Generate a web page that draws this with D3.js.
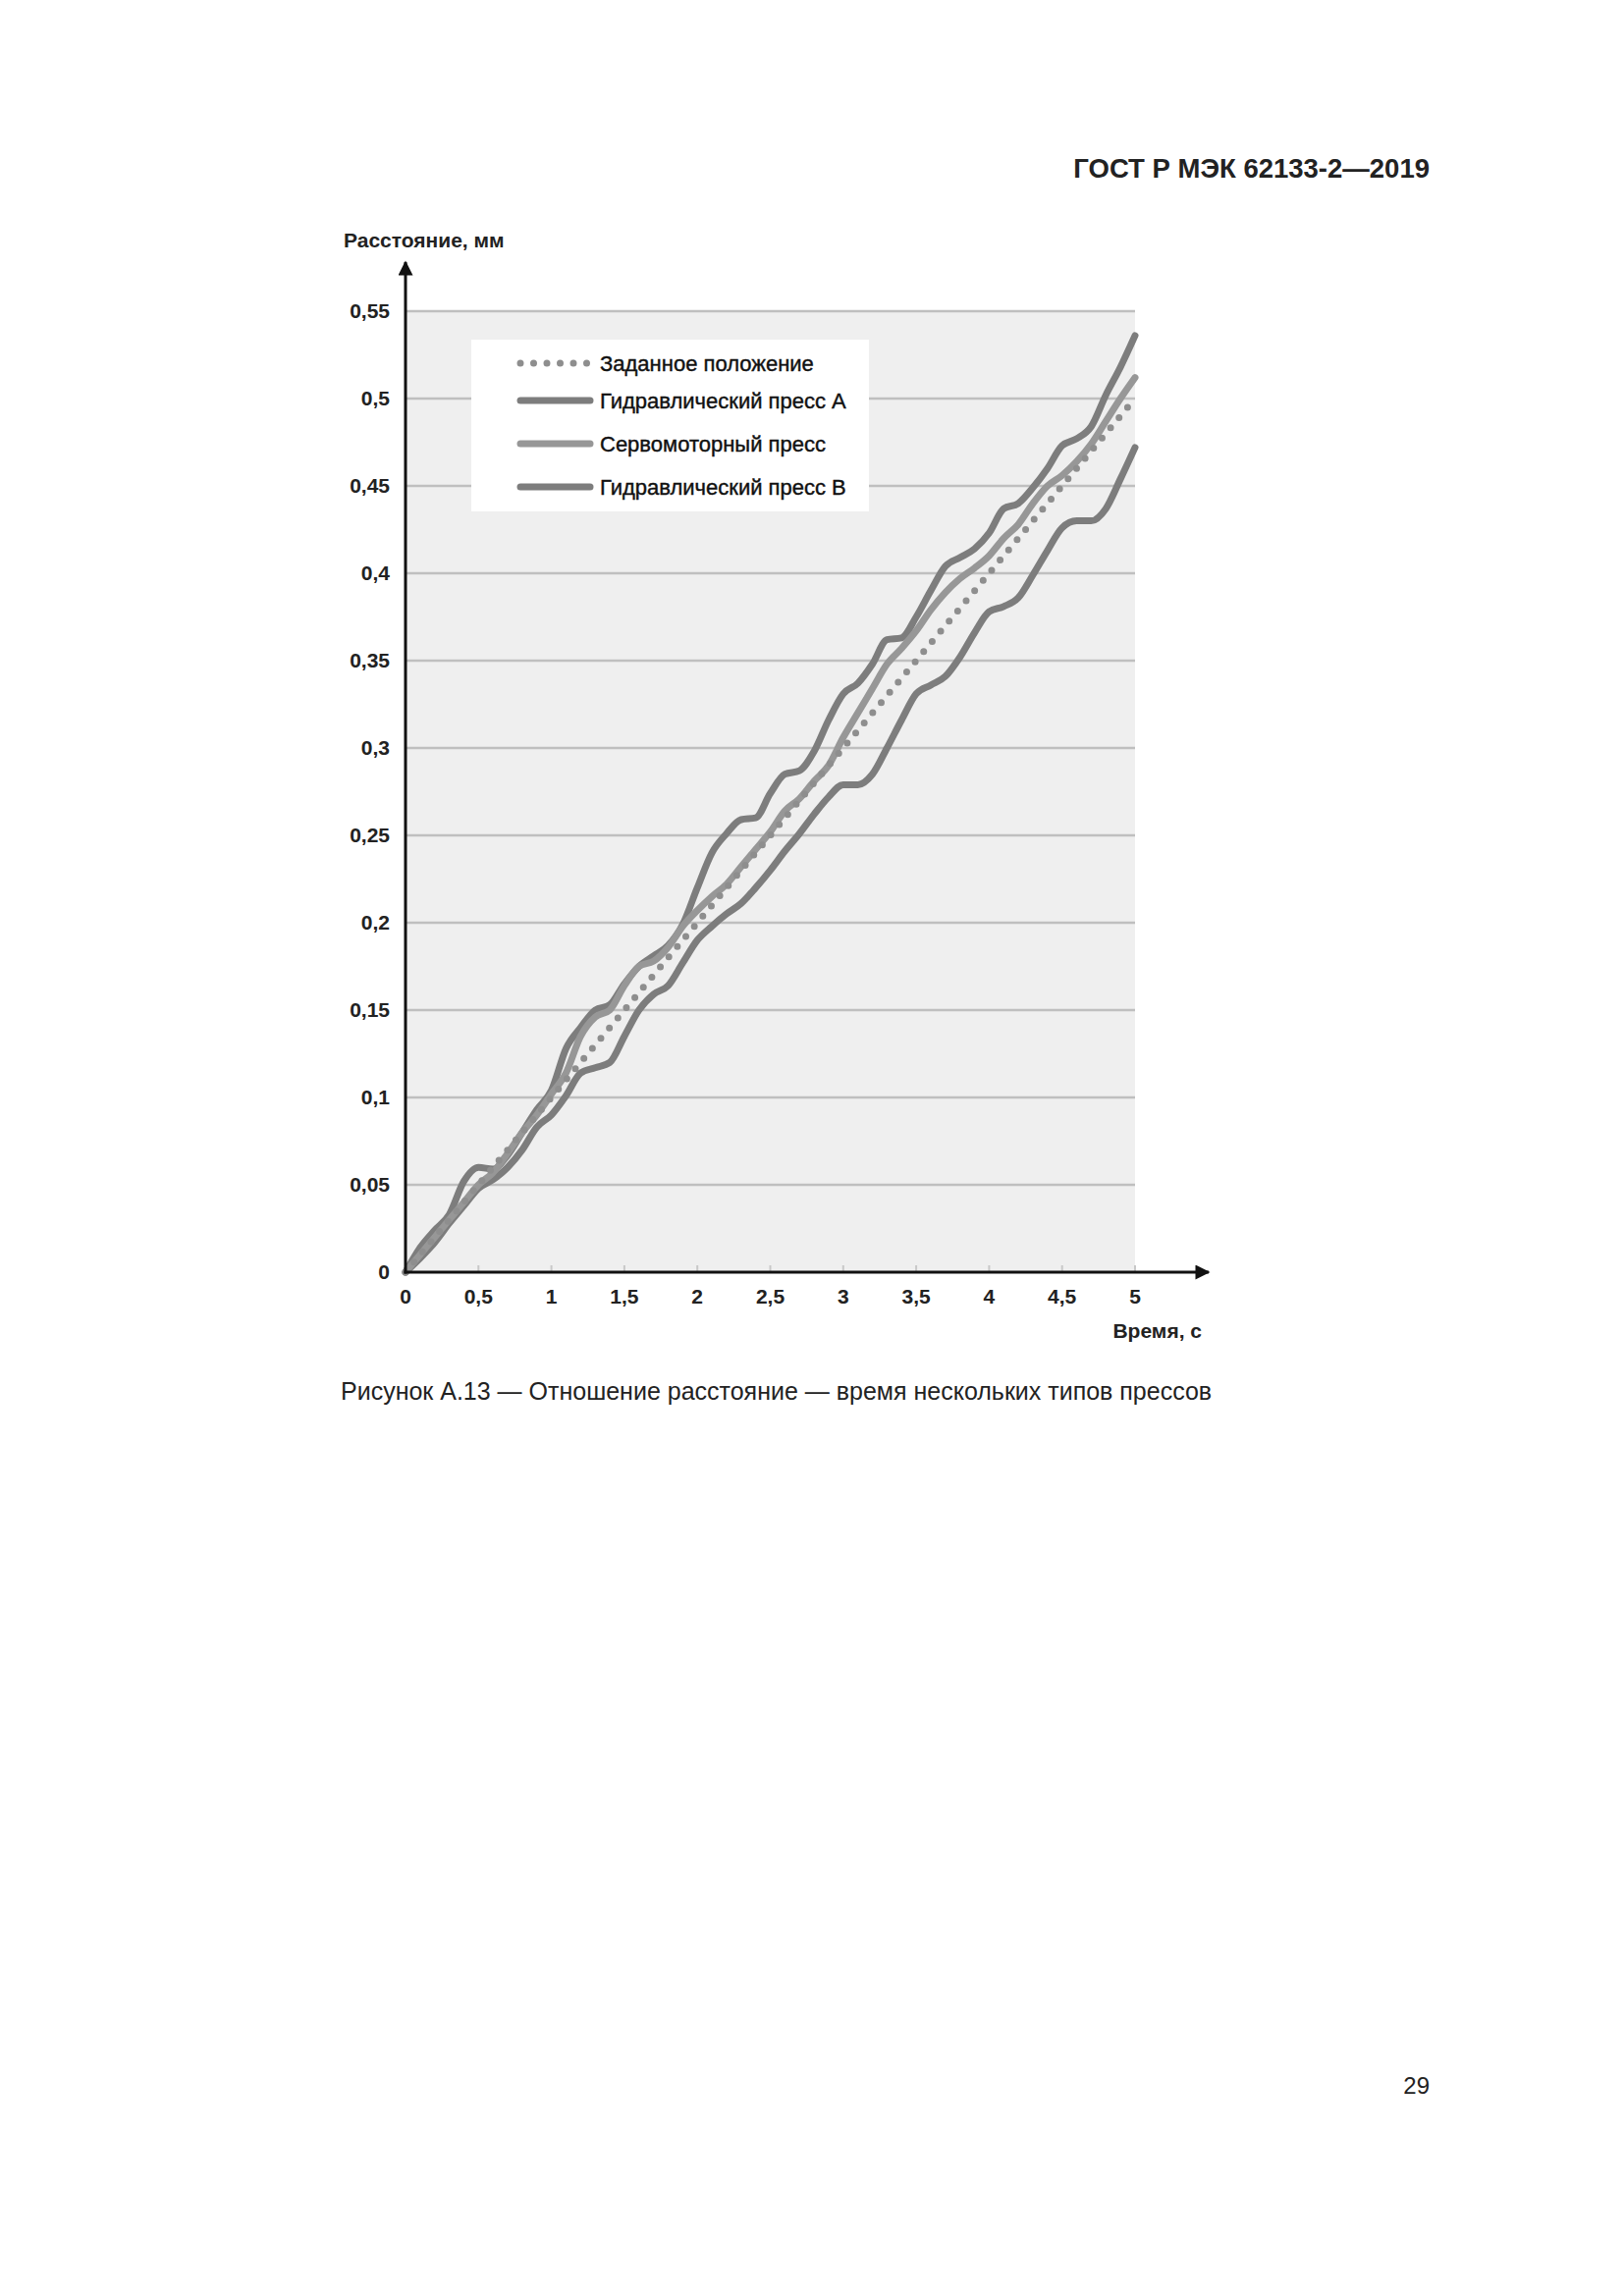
<!DOCTYPE html>
<html>
<head>
<meta charset="utf-8">
<script src="https://cdn.jsdelivr.net/npm/d3@7"></script>
<style>
  html, body { margin: 0; padding: 0; background: #fff; }
  svg { display: block; }
</style>
</head>
<body>
<svg id="chart" width="1654" height="2339"></svg>
<script>
// time points, s
const times = [0, 0.1, 0.2, 0.3, 0.4, 0.5, 0.6, 0.7, 0.8, 0.9,
  1.0, 1.1, 1.2, 1.3, 1.4, 1.5, 1.6, 1.7, 1.8, 1.9,
  2.0, 2.1, 2.2, 2.3, 2.4, 2.5, 2.6, 2.7, 2.8, 2.9,
  3.0, 3.1, 3.2, 3.3, 3.4, 3.5, 3.6, 3.7, 3.8, 3.9,
  4.0, 4.1, 4.2, 4.3, 4.4, 4.5, 4.6, 4.7, 4.8, 4.9, 5.0];

// Гидравлический пресс A
const pressA = [0, 0.014, 0.024, 0.033, 0.052, 0.060, 0.059, 0.067, 0.080, 0.093,
  0.104, 0.128, 0.140, 0.150, 0.153, 0.165, 0.175, 0.181, 0.187, 0.199,
  0.220, 0.240, 0.251, 0.259, 0.260, 0.274, 0.285, 0.287, 0.298, 0.316,
  0.331, 0.337, 0.348, 0.362, 0.363, 0.375, 0.390, 0.404, 0.409, 0.414,
  0.423, 0.437, 0.440, 0.449, 0.460, 0.473, 0.477, 0.484, 0.502, 0.518, 0.536];

// Сервомоторный пресс
const servo = [0, 0.010, 0.020, 0.030, 0.040, 0.050, 0.057, 0.068, 0.080, 0.090,
  0.102, 0.114, 0.135, 0.146, 0.150, 0.164, 0.175, 0.178, 0.186, 0.198,
  0.207, 0.215, 0.222, 0.232, 0.242, 0.252, 0.264, 0.271, 0.281, 0.290,
  0.306, 0.320, 0.334, 0.348, 0.357, 0.367, 0.379, 0.389, 0.397, 0.403,
  0.410, 0.420, 0.428, 0.440, 0.450, 0.456, 0.464, 0.474, 0.487, 0.500, 0.512];

// Гидравлический пресс B
const pressB = [0, 0.008, 0.017, 0.028, 0.038, 0.048, 0.053, 0.060, 0.070, 0.083,
  0.090, 0.101, 0.114, 0.117, 0.120, 0.135, 0.150, 0.159, 0.164, 0.177,
  0.190, 0.198, 0.205, 0.211, 0.220, 0.230, 0.241, 0.251, 0.262, 0.272,
  0.279, 0.279, 0.285, 0.300, 0.316, 0.331, 0.336, 0.341, 0.352, 0.366,
  0.378, 0.381, 0.386, 0.399, 0.413, 0.426, 0.430, 0.430, 0.437, 0.454, 0.472];

// Заданное положение
const targetTimes = [0, 0.5, 1, 1.5, 2, 2.5, 3, 3.5, 4, 4.5, 5];
const targetValues = [0, 0.05, 0.1, 0.15, 0.2, 0.25, 0.3, 0.35, 0.4, 0.45, 0.5];

const xTicks = [0, 0.5, 1, 1.5, 2, 2.5, 3, 3.5, 4, 4.5, 5];
const yTicks = [0, 0.05, 0.1, 0.15, 0.2, 0.25, 0.3, 0.35, 0.4, 0.45, 0.5, 0.55];

const legendLabels = ['Заданное положение', 'Гидравлический пресс A', 'Сервомоторный пресс', 'Гидравлический пресс B'];

const fmt = d => String(d).replace('.', ',');

const svg = d3.select('#chart');
const font = 'Liberation Sans, Arial, sans-serif';

const x = d3.scaleLinear().domain([0, 5]).range([413, 1156]);
const y = d3.scaleLinear().domain([0, 0.55]).range([1296, 317]);

// header
svg.append('text')
  .attr('x', 1456).attr('y', 181)
  .attr('text-anchor', 'end')
  .style('font-family', font).style('font-size', '27.5px').style('font-weight', 'bold')
  .style('fill', '#222')
  .text('ГОСТ Р МЭК 62133-2—2019');

// plot background
svg.append('rect')
  .attr('x', x(0)).attr('y', y(0.55))
  .attr('width', x(5) - x(0)).attr('height', y(0) - y(0.55))
  .attr('fill', '#efefef');

// grid
svg.append('g')
  .selectAll('line')
  .data(yTicks.filter(d => d > 0))
  .enter().append('line')
  .attr('x1', x(0)).attr('x2', x(5))
  .attr('y1', d => y(d)).attr('y2', d => y(d))
  .attr('stroke', '#bfbfbf').attr('stroke-width', 2.5);

// small x ticks
svg.append('g')
  .selectAll('line')
  .data(xTicks.filter(d => d > 0))
  .enter().append('line')
  .attr('x1', d => x(d)).attr('x2', d => x(d))
  .attr('y1', y(0) - 7).attr('y2', y(0))
  .attr('stroke', '#c8c8c8').attr('stroke-width', 2);

// y tick labels
svg.append('g')
  .selectAll('text')
  .data(yTicks)
  .enter().append('text')
  .attr('x', 397).attr('y', d => y(d))
  .attr('dy', '0.35em')
  .attr('text-anchor', 'end')
  .style('font-family', font).style('font-size', '21px').style('font-weight', 'bold')
  .style('fill', '#222')
  .text(fmt);

// x tick labels
svg.append('g')
  .selectAll('text')
  .data(xTicks)
  .enter().append('text')
  .attr('x', d => x(d)).attr('y', 1321)
  .attr('dy', '0.35em')
  .attr('text-anchor', 'middle')
  .style('font-family', font).style('font-size', '21px').style('font-weight', 'bold')
  .style('fill', '#222')
  .text(fmt);

// series
const line = d3.line()
  .x(d => x(d[0]))
  .y(d => y(d[1]))
  .curve(d3.curveMonotoneX);

const series = [
  { values: pressB, color: '#7d7d7d' },
  { values: pressA, color: '#7d7d7d' },
  { values: servo, color: '#979797' }
];

series.forEach(s => {
  svg.append('path')
    .datum(times.map((t, i) => [t, s.values[i]]))
    .attr('fill', 'none')
    .attr('stroke', s.color)
    .attr('stroke-width', 7)
    .attr('stroke-linejoin', 'round')
    .attr('stroke-linecap', 'round')
    .attr('d', line);
});

svg.append('path')
  .datum(targetTimes.map((t, i) => [t, targetValues[i]]))
  .attr('fill', 'none')
  .attr('stroke', '#8e8e8e')
  .attr('stroke-width', 7)
  .attr('stroke-linecap', 'round')
  .attr('stroke-dasharray', '0,13.5')
  .attr('d', d3.line().x(d => x(d[0])).y(d => y(d[1])));

// axes with arrows
const defs = svg.append('defs');
defs.append('marker')
  .attr('id', 'arrow')
  .attr('viewBox', '0 0 10 10')
  .attr('refX', 9).attr('refY', 5)
  .attr('markerWidth', 6).attr('markerHeight', 5)
  .attr('markerUnits', 'strokeWidth')
  .attr('orient', 'auto')
  .append('path')
  .attr('d', 'M0,0 L10,5 L0,10 z')
  .attr('fill', '#111');

svg.append('line')
  .attr('x1', x(0)).attr('x2', x(0))
  .attr('y1', y(0) + 1.5).attr('y2', 267)
  .attr('stroke', '#111').attr('stroke-width', 3)
  .attr('marker-end', 'url(#arrow)');

svg.append('line')
  .attr('x1', x(0) - 1.5).attr('x2', 1231)
  .attr('y1', y(0)).attr('y2', y(0))
  .attr('stroke', '#111').attr('stroke-width', 3)
  .attr('marker-end', 'url(#arrow)');

// axis titles
svg.append('text')
  .attr('x', 350).attr('y', 252)
  .style('font-family', font).style('font-size', '21px').style('font-weight', 'bold')
  .style('fill', '#222')
  .text('Расстояние, мм');

svg.append('text')
  .attr('x', 1224).attr('y', 1363)
  .attr('text-anchor', 'end')
  .style('font-family', font).style('font-size', '21px').style('font-weight', 'bold')
  .style('fill', '#222')
  .text('Время, с');

// legend
const legend = svg.append('g');
legend.append('rect')
  .attr('x', 480).attr('y', 346)
  .attr('width', 405).attr('height', 175)
  .attr('fill', '#fff');

const legendY = [370, 408, 452, 496];
const legendStyle = [
  { color: '#8e8e8e', dash: '0,13.5' },
  { color: '#7d7d7d', dash: null },
  { color: '#979797', dash: null },
  { color: '#7d7d7d', dash: null }
];

legendLabels.forEach((label, i) => {
  legend.append('line')
    .attr('x1', 530).attr('x2', 601)
    .attr('y1', legendY[i]).attr('y2', legendY[i])
    .attr('stroke', legendStyle[i].color)
    .attr('stroke-width', 7)
    .attr('stroke-linecap', 'round')
    .attr('stroke-dasharray', legendStyle[i].dash);
  legend.append('text')
    .attr('x', 611).attr('y', legendY[i])
    .attr('dy', '0.35em')
    .style('font-family', font).style('font-size', '22px')
    .style('fill', '#111')
    .style('stroke', '#111').style('stroke-width', 0.4)
    .text(label);
});

// caption
svg.append('text')
  .attr('x', 347).attr('y', 1426)
  .style('font-family', font).style('font-size', '25px')
  .style('fill', '#222')
  .text('Рисунок А.13 — Отношение расстояние — время нескольких типов прессов');

// page number
svg.append('text')
  .attr('x', 1456).attr('y', 2133)
  .attr('text-anchor', 'end')
  .style('font-family', font).style('font-size', '24px')
  .style('fill', '#222')
  .text('29');
</script>
</body>
</html>
